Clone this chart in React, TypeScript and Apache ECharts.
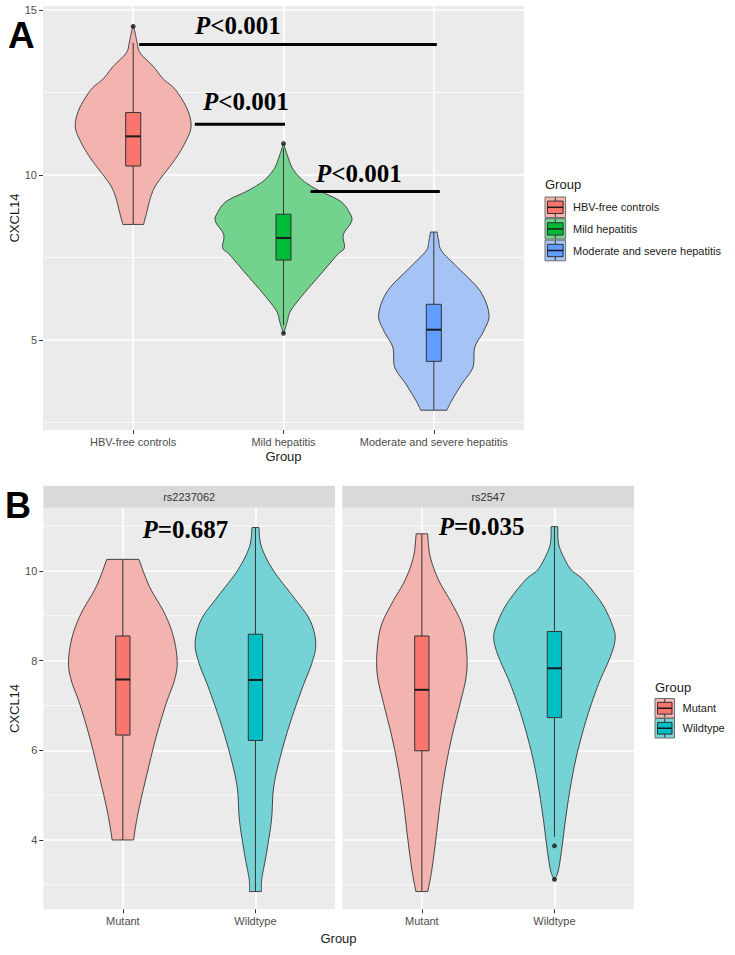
import React, { useEffect, useRef } from "react";
import * as echarts from "echarts";

// ---------------- Panel A data ----------------
const categoriesA = ["HBV-free controls", "Mild hepatitis", "Moderate and severe hepatitis"];
const violinFillA = ["#F3B3AE", "#74D28F", "#A5C3F5"];
const boxFillA = ["#F8766D", "#00BA38", "#619CFF"];
// violin profiles: [CXCL14 value, half width (category units)]
const violinHBV = [
  [8.5, 0.069], [8.88, 0.091], [9.28, 0.113], [9.6, 0.14], [9.88, 0.18], [10.48, 0.28],
  [10.99, 0.347], [11.46, 0.385], [11.99, 0.36], [12.59, 0.28], [12.91, 0.2], [13.29, 0.133],
  [13.69, 0.047], [13.99, 0.027], [14.3, 0.013], [14.55, 0],
];
const violinMild = [
  [5.18, 0], [5.4, 0.015], [5.58, 0.027], [5.88, 0.047], [6.39, 0.133], [6.99, 0.247],
  [7.59, 0.36], [7.79, 0.405], [8.19, 0.398], [8.59, 0.453], [8.85, 0.44], [9.2, 0.38],
  [9.5, 0.247], [9.7, 0.17], [9.9, 0.113], [10.2, 0.06], [10.5, 0.033], [10.95, 0],
];
const violinModerate = [
  [2.87, 0.087], [3.17, 0.12], [3.67, 0.187], [4.17, 0.26], [4.78, 0.273], [5.28, 0.333],
  [5.78, 0.367], [6.49, 0.307], [7.19, 0.16], [7.69, 0.053], [7.99, 0.033], [8.27, 0.022],
];
// box stats: [lower whisker, Q1, median, Q3, upper whisker]
const boxHBV = [8.5, 10.27, 11.17, 11.89, 14.0];
const boxMild = [5.45, 7.42, 8.09, 8.81, 10.8];
const boxModerate = [2.87, 4.35, 5.31, 6.08, 8.27];
const outliersA = [[1, 14.5], [2, 10.95], [2, 5.2]];
const yTicksA = [5, 10, 15];
const yMinorA = [2.5, 7.5, 12.5];
// significance bars: [x1, x2, y]
const sigBarsA = [[1.04, 3.02, 13.95], [1.41, 2.01, 11.54], [2.18, 3.04, 9.5]];
// significance labels: [x, y]
const sigTextPosA = [[1.697, 14.52], [1.749, 12.22], [2.502, 10.04]];
const sigTextA = ["<0.001", "<0.001", "<0.001"];

// ---------------- Panel B data ----------------
const facetsB = ["rs2237062", "rs2547"];
const categoriesB = ["Mutant", "Wildtype"];
const violinFillB = ["#F3B3AE", "#75D3D6"];
const boxFillB = ["#F8766D", "#00BFC4"];
const violinRs1Mutant = [
  [4.0, 0.081], [4.37, 0.1], [4.82, 0.13], [5.56, 0.189], [6.3, 0.251], [7.05, 0.327],
  [7.57, 0.39], [7.98, 0.41], [8.53, 0.382], [9.06, 0.314], [9.65, 0.201], [10.26, 0.121],
];
const violinRs1Wild = [
  [2.85, 0.045], [3.0, 0.045], [3.18, 0.05], [3.7, 0.083], [4.45, 0.121], [5.19, 0.138],
  [5.93, 0.194], [6.68, 0.269], [7.42, 0.357], [7.94, 0.425], [8.39, 0.455], [8.91, 0.41],
  [9.43, 0.284], [10.02, 0.133], [10.54, 0.045], [10.97, 0.026],
];
const violinRs2Mutant = [
  [2.85, 0.045], [3.33, 0.075], [4.07, 0.108], [4.82, 0.138], [5.56, 0.176], [6.3, 0.226],
  [7.05, 0.289], [7.64, 0.334], [8.16, 0.339], [8.76, 0.309], [9.28, 0.226], [9.8, 0.126],
  [10.32, 0.063], [10.83, 0.043],
];
const violinRs2Wild = [
  [3.1, 0], [3.33, 0.03], [3.86, 0.058], [4.45, 0.083], [5.19, 0.121], [5.93, 0.171],
  [6.75, 0.247], [7.49, 0.334], [8.09, 0.422], [8.5, 0.458], [8.83, 0.432], [9.28, 0.357],
  [9.8, 0.219], [10.02, 0.128], [10.32, 0.068], [10.62, 0.03], [10.99, 0.025],
];
const boxRs1Mutant = [4.0, 6.34, 7.58, 8.55, 10.26];
const boxRs1Wild = [2.85, 6.22, 7.57, 8.59, 10.97];
const boxRs2Mutant = [2.85, 5.99, 7.35, 8.55, 10.83];
const boxRs2Wild = [4.07, 6.73, 7.83, 8.65, 10.99];
const outliersRs2 = [[2, 3.87], [2, 3.12]];
const yTicksB = [4, 6, 8, 10];
const yMinorB = [3, 5, 7, 9, 11];
const sigTextPosB = [[1.471, 10.93], [1.451, 10.99]];
const sigTextB = ["=0.687", "=0.035"];

const SANS = "'Liberation Sans', Arial, Helvetica, sans-serif";
const SERIF = "'Liberation Serif', 'Times New Roman', serif";

// Catmull-Rom curve through the (pixel) outline points of one violin side
function smoothSide(pts: number[][], steps = 8) {
  const out: number[][] = [];
  const n = pts.length;
  for (let i = 0; i < n - 1; i++) {
    const p0 = pts[Math.max(0, i - 1)], p1 = pts[i], p2 = pts[i + 1], p3 = pts[Math.min(n - 1, i + 2)];
    for (let s = 0; s < steps; s++) {
      const t = s / steps, t2 = t * t, t3 = t2 * t;
      out.push([0, 1].map((k) =>
        0.5 * (2 * p1[k] + (-p0[k] + p2[k]) * t + (2 * p0[k] - 5 * p1[k] + 4 * p2[k] - p3[k]) * t2 +
          (-p0[k] + 3 * p1[k] - 3 * p2[k] + p3[k]) * t3)));
    }
  }
  out.push(pts[n - 1]);
  return out;
}

function minorGrid(values: number[], idx: number, xmin: number) {
  return {
    type: "custom", xAxisIndex: idx, yAxisIndex: idx, silent: true, z: 1,
    data: values.map((v) => [xmin, v]),
    renderItem: (params: any, api: any) => {
      const cs = params.coordSys;
      const p = api.coord([xmin, api.value(1)]);
      return {
        type: "line",
        shape: { x1: cs.x, y1: p[1], x2: cs.x + cs.width, y2: p[1] },
        style: { stroke: "#FFFFFF", lineWidth: 0.8 },
      };
    },
  };
}

function violin(profile: number[][], center: number, fill: string, idx: number) {
  return {
    type: "custom", xAxisIndex: idx, yAxisIndex: idx, silent: true, z: 3,
    data: [[center, profile[0][0]]],
    renderItem: (params: any, api: any) => {
      const c = api.value(0) as number;
      const right = smoothSide(profile.map(([v, w]) => api.coord([c + w, v])));
      const left = smoothSide(profile.map(([v, w]) => api.coord([c - w, v]))).reverse();
      return {
        type: "polygon",
        shape: { points: right.concat(left) },
        style: { fill, stroke: "#333333", lineWidth: 0.9, lineJoin: "round" },
      };
    },
  };
}

function box(stats: number[], center: number, fill: string, idx: number, halfW: number) {
  return {
    type: "custom", xAxisIndex: idx, yAxisIndex: idx, silent: true, z: 4,
    data: [[center, ...stats]],
    renderItem: (params: any, api: any) => {
      const c = api.value(0);
      const lo = api.value(1), q1 = api.value(2), md = api.value(3), q3 = api.value(4), hi = api.value(5);
      const pLo = api.coord([c, lo]);
      const pHi = api.coord([c, hi]);
      const a = api.coord([c - halfW, q3]);
      const b = api.coord([c + halfW, q1]);
      const m = api.coord([c, md]);
      return {
        type: "group",
        children: [
          { type: "line", shape: { x1: pLo[0], y1: pLo[1], x2: pLo[0], y2: b[1] }, style: { stroke: "#333333", lineWidth: 1 } },
          { type: "line", shape: { x1: pHi[0], y1: pHi[1], x2: pHi[0], y2: a[1] }, style: { stroke: "#333333", lineWidth: 1 } },
          { type: "rect", shape: { x: a[0], y: a[1], width: b[0] - a[0], height: b[1] - a[1] }, style: { fill, stroke: "#333333", lineWidth: 1 } },
          { type: "line", shape: { x1: a[0], y1: m[1], x2: b[0], y2: m[1] }, style: { stroke: "#1A1A1A", lineWidth: 2 } },
        ],
      };
    },
  };
}

function outliers(data: number[][], idx: number) {
  return {
    type: "scatter", xAxisIndex: idx, yAxisIndex: idx, silent: true, z: 5,
    data, symbolSize: 5, itemStyle: { color: "#1A1A1A" },
  };
}

function sigText(pos: number[][], texts: string[], idx: number) {
  return {
    type: "custom", xAxisIndex: idx, yAxisIndex: idx, silent: true, z: 6,
    data: pos,
    renderItem: (params: any, api: any) => {
      const p = api.coord([api.value(0), api.value(1)]);
      return {
        type: "text", x: p[0], y: p[1],
        style: {
          text: "{i|P}{b|" + texts[params.dataIndex] + "}",
          align: "center", verticalAlign: "middle",
          textAlign: "center", textVerticalAlign: "middle",
          rich: {
            i: { fontFamily: SERIF, fontStyle: "italic", fontWeight: "bold", fontSize: 25, fill: "#000", color: "#000" },
            b: { fontFamily: SERIF, fontWeight: "bold", fontSize: 25, fill: "#000", color: "#000" },
          },
        },
      };
    },
  };
}

function xAxis(idx: number, cats: string[], max: number, name: string) {
  const vals = cats.map((_, i) => i + 1);
  return {
    type: "value", gridIndex: idx, min: 0.4, max,
    name, nameLocation: "middle", nameGap: 20, nameMoveOverlap: false,
    nameTextStyle: { color: "#1A1A1A", fontSize: 13, fontFamily: SANS },
    axisLine: { show: false },
    axisTick: { show: true, customValues: vals, length: 4, lineStyle: { color: "#333333", width: 1 } },
    axisLabel: {
      customValues: vals, formatter: (v: number) => cats[Math.round(v) - 1] ?? "",
      color: "#4D4D4D", fontSize: 11, fontFamily: SANS, margin: 6,
    },
    splitLine: { show: true, lineStyle: { color: "#FFFFFF", width: 1.6 } },
  };
}

function yAxis(idx: number, min: number, max: number, ticks: number[], showLabels: boolean, name: string) {
  return {
    type: "value", gridIndex: idx, min, max,
    name, nameLocation: "middle", nameGap: 22, nameMoveOverlap: false,
    nameTextStyle: { color: "#1A1A1A", fontSize: 13, fontFamily: SANS },
    axisLine: { show: false },
    axisTick: { show: showLabels, customValues: ticks, length: 4, lineStyle: { color: "#333333", width: 1 } },
    axisLabel: { show: showLabels, customValues: ticks, color: "#4D4D4D", fontSize: 11, fontFamily: SANS, margin: 6 },
    splitLine: { show: true, lineStyle: { color: "#FFFFFF", width: 1.6 } },
  };
}

function legendGraphics(title: string, names: string[], lights: string[], fulls: string[], x: number, titleY: number, keyTop: number, step: number, size: number, labelX: number) {
  const els: any[] = [
    { type: "text", x, y: titleY, style: { text: title, font: `13px ${SANS}`, fill: "#1A1A1A", verticalAlign: "middle", textVerticalAlign: "middle" } },
  ];
  names.forEach((n, i) => {
    const top = keyTop + i * step;
    const cx = x + size / 2;
    els.push({ type: "rect", shape: { x, y: top, width: size, height: size }, style: { fill: lights[i], stroke: "#6E6E6E", lineWidth: 1 } });
    els.push({ type: "rect", shape: { x: x + 2.5, y: top + size * 0.2, width: size - 5, height: size * 0.6 }, style: { fill: fulls[i], stroke: "#333333", lineWidth: 1 } });
    els.push({ type: "line", shape: { x1: x + 2.5, y1: top + size / 2, x2: x + size - 2.5, y2: top + size / 2 }, style: { stroke: "#1A1A1A", lineWidth: 1.5 } });
    els.push({ type: "line", shape: { x1: cx, y1: top + 0.5, x2: cx, y2: top + size * 0.2 }, style: { stroke: "#333333", lineWidth: 1 } });
    els.push({ type: "line", shape: { x1: cx, y1: top + size * 0.8, x2: cx, y2: top + size - 0.5 }, style: { stroke: "#333333", lineWidth: 1 } });
    els.push({ type: "text", x: labelX, y: top + size / 2, style: { text: n, font: `11px ${SANS}`, fill: "#1A1A1A", verticalAlign: "middle", textVerticalAlign: "middle" } });
  });
  return els;
}

function buildOption() {
  const graphic: any[] = [
    { type: "text", x: 8, y: 35.5, style: { text: "A", font: `bold 37px ${SANS}`, fill: "#000", verticalAlign: "middle", textVerticalAlign: "middle" } },
    { type: "text", x: 5, y: 505, style: { text: "B", font: `bold 36px ${SANS}`, fill: "#000", verticalAlign: "middle", textVerticalAlign: "middle" } },
    { type: "rect", shape: { x: 43.3, y: 485.7, width: 291.7, height: 22 }, style: { fill: "#D9D9D9" } },
    { type: "rect", shape: { x: 342.3, y: 485.7, width: 291.7, height: 22 }, style: { fill: "#D9D9D9" } },
    { type: "text", x: 189.2, y: 497, style: { text: facetsB[0], font: `11px ${SANS}`, fill: "#333333", align: "center", textAlign: "center", verticalAlign: "middle", textVerticalAlign: "middle" } },
    { type: "text", x: 488.2, y: 497, style: { text: facetsB[1], font: `11px ${SANS}`, fill: "#333333", align: "center", textAlign: "center", verticalAlign: "middle", textVerticalAlign: "middle" } },
    { type: "text", x: 338.5, y: 938, style: { text: "Group", font: `13px ${SANS}`, fill: "#1A1A1A", align: "center", textAlign: "center", verticalAlign: "middle", textVerticalAlign: "middle" } },
    ...legendGraphics("Group", categoriesA, violinFillA, boxFillA, 545, 184, 197, 21.6, 20.6, 573),
    ...legendGraphics("Group", categoriesB, violinFillB, boxFillB, 655, 687, 698.5, 20, 19.5, 682.5),
  ];

  return {
    animation: false,
    backgroundColor: "#FFFFFF",
    grid: [
      { left: 43, top: 6, width: 481, height: 424, show: true, backgroundColor: "#EBEBEB", borderWidth: 0, outerBoundsMode: "none" },
      { left: 43.3, top: 507.7, width: 291.7, height: 401.6, show: true, backgroundColor: "#EBEBEB", borderWidth: 0, outerBoundsMode: "none" },
      { left: 342.3, top: 507.7, width: 291.7, height: 401.6, show: true, backgroundColor: "#EBEBEB", borderWidth: 0, outerBoundsMode: "none" },
    ],
    xAxis: [
      xAxis(0, categoriesA, 3.6, "Group"),
      xAxis(1, categoriesB, 2.6, ""),
      xAxis(2, categoriesB, 2.6, ""),
    ],
    yAxis: [
      yAxis(0, 2.27, 15.12, yTicksA, true, "CXCL14"),
      yAxis(1, 2.454, 11.412, yTicksB, true, "CXCL14"),
      yAxis(2, 2.454, 11.412, yTicksB, false, ""),
    ],
    graphic,
    series: [
      minorGrid(yMinorA, 0, 0.4),
      minorGrid(yMinorB, 1, 0.4),
      minorGrid(yMinorB, 2, 0.4),
      violin(violinHBV, 1, violinFillA[0], 0),
      violin(violinMild, 2, violinFillA[1], 0),
      violin(violinModerate, 3, violinFillA[2], 0),
      box(boxHBV, 1, boxFillA[0], 0, 0.05),
      box(boxMild, 2, boxFillA[1], 0, 0.05),
      box(boxModerate, 3, boxFillA[2], 0, 0.05),
      outliers(outliersA, 0),
      {
        type: "custom", xAxisIndex: 0, yAxisIndex: 0, silent: true, z: 6,
        data: sigBarsA, encode: { x: [0, 1], y: 2 },
        renderItem: (params: any, api: any) => {
          const p1 = api.coord([api.value(0), api.value(2)]);
          const p2 = api.coord([api.value(1), api.value(2)]);
          return { type: "line", shape: { x1: p1[0], y1: p1[1], x2: p2[0], y2: p2[1] }, style: { stroke: "#000", lineWidth: 3 } };
        },
      },
      sigText(sigTextPosA, sigTextA, 0),
      violin(violinRs1Mutant, 1, violinFillB[0], 1),
      violin(violinRs1Wild, 2, violinFillB[1], 1),
      box(boxRs1Mutant, 1, boxFillB[0], 1, 0.054),
      box(boxRs1Wild, 2, boxFillB[1], 1, 0.054),
      sigText([sigTextPosB[0]], [sigTextB[0]], 1),
      violin(violinRs2Mutant, 1, violinFillB[0], 2),
      violin(violinRs2Wild, 2, violinFillB[1], 2),
      box(boxRs2Mutant, 1, boxFillB[0], 2, 0.054),
      box(boxRs2Wild, 2, boxFillB[1], 2, 0.054),
      outliers(outliersRs2, 2),
      sigText([sigTextPosB[1]], [sigTextB[1]], 2),
    ],
  };
}

export default function App() {
  const ref = useRef<HTMLDivElement>(null);
  useEffect(() => {
    const chart = echarts.init(ref.current!, null, { renderer: "svg" });
    chart.setOption(buildOption() as any);
    return () => chart.dispose();
  }, []);
  return <div ref={ref} style={{ position: "fixed", left: 0, top: 0, width: 735, height: 955 }} />;
}
